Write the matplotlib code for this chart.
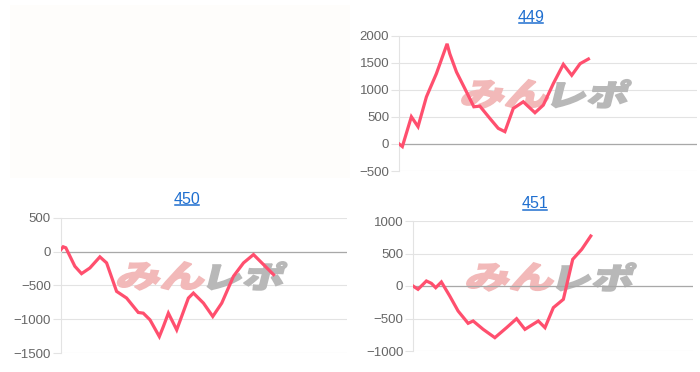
#!/usr/bin/env python
"""Three small difference charts (449 / 450 / 451) with a watermark, one empty slot."""

import matplotlib
matplotlib.use("Agg")
import matplotlib.pyplot as plt
from matplotlib.font_manager import FontProperties
from matplotlib.lines import Line2D
from matplotlib.patches import PathPatch, Rectangle
from matplotlib.textpath import TextPath
from matplotlib.transforms import Affine2D, IdentityTransform

plt.rcParams["font.family"] = ["Liberation Sans", "DejaVu Sans"]

# machine 449
games_449 = [0, 90, 332, 511, 736, 1004, 1291, 1363, 1543, 1767, 2009, 2170,
             2439, 2664, 2843, 3067, 3336, 3650, 3874, 4143, 4412, 4637, 4861, 5085]
diff_449 = [0, -49, 501, 318, 868, 1297, 1847, 1664, 1327, 1021, 685, 697,
            471, 287, 226, 654, 777, 575, 716, 1113, 1468, 1266, 1480, 1566]

# machine 450
games_450 = [0, 75, 149, 401, 587, 821, 1100, 1287, 1566, 1846, 2172, 2311, 2499,
             2760, 2872, 3012, 3245, 3571, 3711, 3991, 4252, 4503, 4830, 5110,
             5389, 5669, 5949]
diff_450 = [20, 70, 55, -218, -327, -243, -79, -168, -589, -688, -901, -911, -1010,
            -1257, -1109, -911, -1158, -688, -614, -762, -960, -762, -366, -168,
            -45, -193, -342]

# machine 451
games_451 = [0, 143, 382, 525, 649, 811, 1050, 1289, 1575, 1718, 2005, 2339,
             2673, 2959, 3198, 3580, 3771, 4010, 4296, 4563, 4821, 5079]
diff_451 = [0, -51, 77, 41, -26, 62, -154, -385, -574, -538, -667, -795,
            -641, -503, -667, -538, -641, -333, -205, 410, 564, 769]

titles = ["449", "450", "451"]
y_ranges = [(-500, 2000), (-1500, 500), (-1000, 1000)]

W, H = 700, 372
LINE = "#ff4f6e"
BLUE = "#1f6fd0"

fig = plt.figure(figsize=(W / 100, H / 100), dpi=100)
fig.patch.set_facecolor("white")

# faint empty panel in the top-left slot
fig.add_artist(Rectangle((10 / W, 1 - 178 / H), 340 / W, 173 / H,
                         transform=fig.transFigure, facecolor="#fefdfb",
                         edgecolor="none", zorder=0))

# axes boxes in pixels: left, right, top, bottom (from top of image)
boxes = [(399, 697, 35.5, 171), (60.5, 347, 217.7, 353), (413, 693, 221, 351)]
title_pos = [(531, 17), (187, 199), (535, 204)]
series = [(games_449, diff_449), (games_450, diff_450), (games_451, diff_451)]

mark_font = FontProperties(family="Noto Sans CJK JP", weight="heavy")


def watermark(ax, cx, cy):
    parts = [("みん", "#f2b9b9", cx - 84, 86), ("レポ", "#b8b8b8", cx + 7, 74)]
    for text, color, x0, width in parts:
        tp = TextPath((0, 0), text, size=1, prop=mark_font)
        ext = tp.get_extents()
        trans = (Affine2D().translate(-ext.x0, -ext.y0)
                 .scale(width / ext.width, 28 / ext.height)
                 .skew_deg(14, 0)
                 .translate(x0 - 4, H - cy - 14))
        patch = PathPatch(tp, transform=trans, facecolor=color,
                          edgecolor=color, linewidth=1.2, zorder=1, clip_on=False)
        ax.add_patch(patch)


title_texts = []
for (left, right, top, bottom), (gx, gy), name, (lo, hi), (tx, ty) in zip(
        boxes, series, titles, y_ranges, title_pos):
    ax = fig.add_axes([left / W, 1 - bottom / H, (right - left) / W, (bottom - top) / H])
    ax.set_facecolor("white")
    ax.plot(gx, gy, color=LINE, linewidth=2.3, solid_joinstyle="miter", zorder=3)
    ax.set_xlim(0, 8000)
    ax.set_ylim(lo, hi)
    ax.set_yticks(range(lo, hi + 1, 500))
    ax.set_xticks([])
    ax.grid(axis="y", color="#e3e3e3", linewidth=0.8)
    ax.axhline(0, color="#a8a8a8", linewidth=0.9, zorder=2)
    for side in ["top", "right", "bottom"]:
        ax.spines[side].set_visible(False)
    ax.spines["left"].set_color("#e3e3e3")
    ax.spines["left"].set_linewidth(0.8)
    ax.tick_params(axis="y", length=6, width=0.8, color="#e3e3e3",
                   labelsize=9.5, labelcolor="#666666", pad=1)
    ax.set_axisbelow(True)
    watermark(ax, (left + right) / 2, top + 0.43 * (bottom - top))
    t = fig.text(tx / W, 1 - ty / H, name, color=BLUE, fontsize=11.5,
                 ha="center", va="center")
    title_texts.append(t)

# underline the link-style titles
fig.canvas.draw()
for t in title_texts:
    bb = t.get_window_extent()
    fig.add_artist(Line2D([bb.x0 + 1, bb.x1 - 1], [bb.y0 + 1.5, bb.y0 + 1.5],
                          transform=IdentityTransform(), color=BLUE, linewidth=1.1))

fig.savefig("out.png", dpi=100)
